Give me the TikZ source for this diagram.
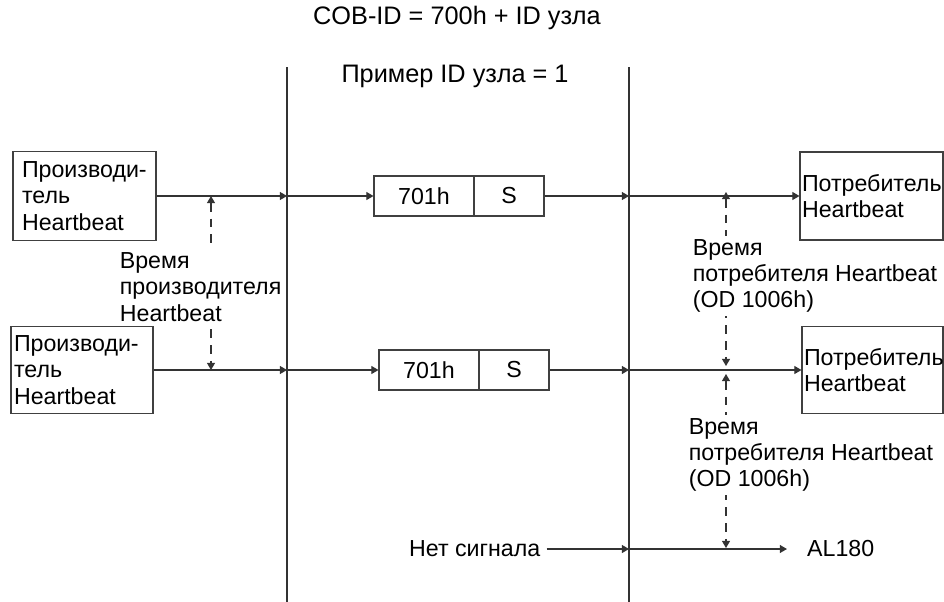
\documentclass[tikz,border=0pt]{standalone}
\usepackage{fontspec}
\setmainfont{Liberation Sans}
\usetikzlibrary{arrows.meta}

\begin{document}
\begin{tikzpicture}[x=0.02cm, y=-0.02cm,
    font=\fontsize{13.2}{15}\selectfont,
    blk/.style={draw=black!75, line width=0.6pt, align=left},
    fld/.style={draw=black!75, line width=0.6pt, minimum height=0.8cm, inner sep=0pt},
    arr/.style={draw=black!80, line width=0.6pt, -{Triangle[length=4pt, width=4.5pt]}},
    dim/.style={draw=black!80, line width=0.6pt, dash pattern=on 5pt off 4pt, {Triangle[length=4pt, width=4.5pt]}-{Triangle[length=4pt, width=4.5pt]}},
    lbl/.style={fill=white, align=left, inner sep=2pt},
    hdr/.style={font=\fontsize{14.4}{16}\selectfont}
]
\useasboundingbox (0,0) rectangle (944,602);

% heading
\node[hdr] (title) at (457,18) {COB-ID = 700h + ID узла};
\node[hdr] (ex) at (455,76) {Пример ID узла = 1};

% bus lines
\coordinate (v1t) at (287,67);
\coordinate (v1b) at (287,602);
\coordinate (v2t) at (629,67);
\coordinate (v2b) at (629,602);
\draw[draw=black!80, line width=0.6pt] (v1t) -- (v1b);
\draw[draw=black!80, line width=0.6pt] (v2t) -- (v2b);

% timing
\coordinate (pt1) at (211,196);
\coordinate (pt2) at (211,370);
\coordinate (ct1) at (726,192);
\coordinate (ct2) at (726,366);
\coordinate (ct3) at (726,374);
\coordinate (ct4) at (726,548);
\draw[dim] (pt1) -- (pt2);
\draw[dim] (ct1) -- (ct2);
\draw[dim] (ct3) -- (ct4);

\node[lbl, anchor=west] (ptime) at (116,287) {Время\\производителя\\Heartbeat};
\node[lbl, anchor=west] (ctime1) at (689,276) {Время\\потребителя Heartbeat\\(OD 1006h)};
\node[lbl, anchor=west] (ctime2) at (685,455) {Время\\потребителя Heartbeat\\(OD 1006h)};

% producers and consumers
\node[blk, minimum width=2.86cm, minimum height=1.78cm, text width=2.5cm, inner xsep=0.18cm] (prod1) at (84.5,196) {Производи-\\тель\\Heartbeat};
\node[blk, minimum width=2.84cm, minimum height=1.74cm, text width=2.72cm, inner xsep=0.06cm] (prod2) at (82,370) {Производи-\\тель\\Heartbeat};
\node[blk, minimum width=2.86cm, minimum height=1.76cm, text width=2.78cm, inner xsep=0.04cm] (cons1) at (871.5,196) {Потребитель\\Heartbeat};
\node[blk, minimum width=2.82cm, minimum height=1.74cm, text width=2.74cm, inner xsep=0.04cm] (cons2) at (872.5,370) {Потребитель\\Heartbeat};

% frames
\node[fld, minimum width=2cm] (id1) at (424,196) {701h};
\node[fld, minimum width=1.4cm] (s1) at (509,196) {S};
\node[fld, minimum width=2cm] (id2) at (429,370) {701h};
\node[fld, minimum width=1.4cm] (s2) at (514,370) {S};

% no signal row
\node[anchor=west] (nosig) at (403,549) {Нет сигнала};
\node[anchor=west] (al) at (801,549) {AL180};

\coordinate (a1) at (287,196);
\coordinate (b1) at (629,196);
\coordinate (a2) at (287,370);
\coordinate (b2) at (629,370);
\coordinate (b3) at (629,549);

\draw[arr] (prod1) -- (a1);
\draw[arr] (a1) -- (id1);
\draw[arr] (s1) -- (b1);
\draw[arr] (b1) -- (cons1);
\draw[arr] (prod2) -- (a2);
\draw[arr] (a2) -- (id2);
\draw[arr] (s2) -- (b2);
\draw[arr] (b2) -- (cons2);
\draw[arr] (nosig) -- (b3);
\draw[arr, shorten >=8pt] (b3) -- (al);
\end{tikzpicture}
\end{document}
